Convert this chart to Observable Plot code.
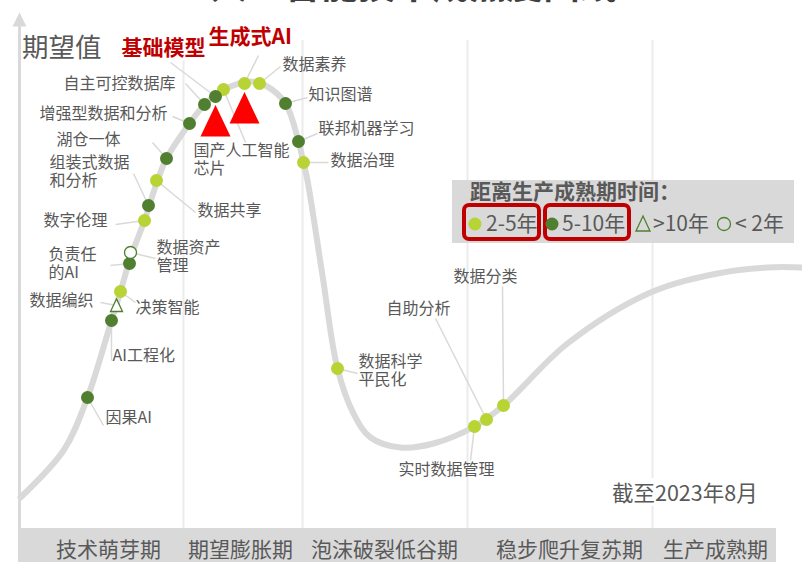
<!DOCTYPE html>
<html>
<head>
<meta charset="utf-8">
<script src="https://cdn.jsdelivr.net/npm/d3@7"></script>
<script src="https://cdn.jsdelivr.net/npm/@observablehq/plot@0.6"></script>
<style>
  html, body { margin: 0; padding: 0; background: #fff; }
  #wrap { position: relative; width: 802px; height: 562px; overflow: hidden; font-family: "Noto Sans CJK SC", "Noto Sans", sans-serif; }
  #chart svg { display: block; }
  .ov { position: absolute; white-space: pre; color: #595959; }
  #title { left: 210px; top: -37px; font-size: 37px; line-height: 40px; font-weight: bold; color: #404040; }
  #ylabel { left: 22px; top: 31px; font-size: 26.5px; line-height: 30px; }
  #asof { left: 610px; top: 478px; font-size: 21.5px; line-height: 28px; background: #fff; padding: 0 2px; }
  #legend { position: absolute; left: 452px; top: 180px; width: 342px; height: 63px; background: #d9d9d9; }
  #legendTitle { left: 470px; top: 178px; font-size: 21px; line-height: 24px; font-weight: bold; }
  .lbox { position: absolute; top: 203px; height: 38px; box-sizing: border-box; border: 4px solid #c00000; border-radius: 7px; }
  .ltxt { top: 210px; font-size: 21px; line-height: 24px; }
</style>
</head>
<body>
<div id="wrap">
  <div id="chart"></div>
  <div class="ov" id="title"></div>
  <div class="ov" id="ylabel"></div>
  <div class="ov" id="asof"></div>
  <div id="legend"></div>
  <div id="legendItems"></div>
</div>
<script>
// ---------------- data ----------------
const chartTitle = "人工智能技术成熟度曲线";
const yAxisLabel = "期望值";
const asOfText = "截至2023年8月";
const legendTitle = "距离生产成熟期时间：";
const maturityClasses = ["2-5", "5-10", ">10", "<2"];
const maturityLabels = ["2-5年", "5-10年", ">10年", "< 2年"];

// hype curve: time (x) vs expectation (y)
const curveTime   = [1, 44, 68, 92, 101, 111, 125, 137, 147, 170, 185, 196, 211, 231, 246, 266, 279, 284, 288, 303, 318, 334, 351, 381, 414, 455, 484, 548, 631, 698, 748, 783];
const curveExpect = [31, 78, 131, 208, 237, 271, 308, 345, 370, 405, 424, 433, 442, 447, 443, 425, 387, 366, 348, 253, 160, 115, 91, 81, 85, 102, 123, 185, 236, 255, 261, 261];

// phases
const phaseNames   = ["技术萌芽期", "期望膨胀期", "泡沫破裂低谷期", "稳步爬升复苏期", "生产成熟期"];
const phaseBounds  = [-1, 164, 283, 448, 633, 757];
const phaseCenters = [89, 221, 365, 550, 696];

// technologies
const techNames = ["因果AI", "AI工程化", "数据编织", "决策智能", "负责任的AI", "数据资产管理", "数字伦理", "组装式数据和分析", "数据共享", "湖仓一体", "增强型数据和分析", "自主可控数据库", "基础模型", "国产人工智能芯片", "生成式AI", "数据素养", "知识图谱", "联邦机器学习", "数据治理", "数据科学平民化", "实时数据管理", "自助分析", "数据分类"];
const techTime   = [68, 92, 97, 101, 110, 111, 125, 129, 137, 147, 170, 185, 196, 204, 225, 240, 266, 279, 284, 318, 455, 467, 484];
const techExpect = [131, 208, 223, 237, 265, 276, 308, 323, 348, 370, 405, 424, 432, 439, 445, 445, 425, 387, 366, 160, 102, 109, 123];
const techMaturity = ["5-10", "5-10", ">10", "2-5", "5-10", "<2", "2-5", "5-10", "2-5", "5-10", "5-10", "5-10", "5-10", "2-5", "2-5", "2-5", "5-10", "5-10", "2-5", "2-5", "2-5", "2-5", "2-5"];
const highlighted = ["基础模型", "生成式AI"];

// ---------------- layout (label offsets, px) ----------------
const labelLayout = {
  "因果AI":         {dx: 18,  dy: 20,  anchor: "start",  lx: 16,  ly: 28},
  "AI工程化":       {dx: 1,   dy: 35,  anchor: "start",  lx: 0,   ly: 40},
  "数据编织":       {dx: -23, dy: -5,  anchor: "end",    lx: -16, ly: -3},
  "决策智能":       {dx: 15,  dy: 16,  anchor: "start",  lx: 15,  ly: 11},
  "负责任的AI":     {dx: -81, dy: 0,   anchor: "start",  lx: -19, ly: 2,  text: "负责任\n的AI"},
  "数据资产管理":   {dx: 26,  dy: 4,   anchor: "start",  lx: 25,  ly: 6,  text: "数据资产\n管理"},
  "数字伦理":       {dx: -37, dy: 0,   anchor: "end",    lx: -29, ly: 4},
  "组装式数据和分析": {dx: -99, dy: -34, anchor: "start", lx: -15, ly: -32, text: "组装式数据\n和分析"},
  "数据共享":       {dx: 41,  dy: 30,  anchor: "start",  lx: 39,  ly: 32},
  "湖仓一体":       {dx: -46, dy: -19, anchor: "end",    lx: -14, ly: -16},
  "增强型数据和分析": {dx: -22, dy: -10, anchor: "end",   lx: -17, ly: -7},
  "自主可控数据库": {dx: -29, dy: -21, anchor: "end",    lx: -19, ly: -21},
  "基础模型":       {dx: -10, dy: -48, anchor: "end",    lx: -45, ly: -34},
  "国产人工智能芯片": {dx: -30, dy: 70, anchor: "start",  lx: 22,  ly: 53, text: "国产人工智能\n芯片"},
  "生成式AI":       {dx: -36, dy: -46, anchor: "start",  lx: 14,  ly: -28},
  "数据素养":       {dx: 23,  dy: -19, anchor: "start",  lx: 21,  ly: -17},
  "知识图谱":       {dx: 23,  dy: -9,  anchor: "start",  lx: 22,  ly: -6},
  "联邦机器学习":   {dx: 20,  dy: -13, anchor: "start",  lx: 19,  ly: -8},
  "数据治理":       {dx: 27,  dy: -2,  anchor: "start",  lx: 25,  ly: 0},
  "数据科学平民化": {dx: 21,  dy: 2,   anchor: "start",  lx: 20,  ly: 5,  text: "数据科学\n平民化"},
  "实时数据管理":   {dx: -28, dy: 43,  anchor: "middle", lx: -4,  ly: 34},
  "自助分析":       {dx: -36, dy: -111, anchor: "end",   lx: -51, ly: -101},
  "数据分类":       {dx: -18, dy: -129, anchor: "middle", lx: -1, ly: -119}
};

// ---------------- build ----------------
const LIGHT = "#b7d334", DARK = "#4f7f2f", GRAY = "#595959", CURVE = "#d9d9d9";
const FONT = '"Noto Sans CJK SC", "Noto Sans", sans-serif';

const curve = curveTime.map((t, i) => ({t, e: curveExpect[i]}));
const phases = phaseNames.map((name, i) => ({name, start: phaseBounds[i], end: phaseBounds[i + 1], center: phaseCenters[i]}));
const items = techNames.map((name, i) => {
  const L = labelLayout[name];
  return {name, t: techTime[i], e: techExpect[i], m: techMaturity[i], hl: highlighted.includes(name),
          text: L.text || name, anchor: L.anchor, lxp: techTime[i] + L.dx, lyp: techExpect[i] - L.dy,
          kx: techTime[i] + L.lx, ky: techExpect[i] - L.ly};
});

const tri = {draw(ctx, size) { const r = Math.sqrt(size / Math.PI); ctx.moveTo(0, -1.1 * r); ctx.lineTo(r, r); ctx.lineTo(-r, r); ctx.closePath(); }};
const arrowHead = {draw(ctx, size) { const r = Math.sqrt(size / Math.PI); ctx.moveTo(0, 0); ctx.lineTo(r, 2 * r); ctx.lineTo(-r, 2 * r); ctx.closePath(); }};

const labelMark = (anchor) => Plot.text(items.filter(d => !d.hl && d.anchor === anchor), {
  x: "lxp", y: "lyp", text: "text", textAnchor: anchor, fontSize: 16, fill: GRAY, lineHeight: 1.1
});
const redLabel = (anchor) => Plot.text(items.filter(d => d.hl && d.anchor === anchor), {
  x: "lxp", y: "lyp", text: "text", textAnchor: anchor,
  fontSize: 21, fontWeight: "bold", fill: "#c00000", stroke: "white", strokeWidth: 6, paintOrder: "stroke"
});

const chart = Plot.plot({
  width: 802, height: 562,
  marginLeft: 19, marginRight: 0, marginTop: 40, marginBottom: 34,
  x: {domain: [0, 783], axis: null},
  y: {domain: [0, 488], axis: null},
  style: {fontFamily: FONT, background: "white"},
  marks: [
    Plot.rect(phases, {x1: "start", x2: "end", y1: 0, y2: -34, fill: "#d9d9d9"}),
    Plot.ruleX(phaseBounds.slice(1, -1), {y1: 0, y2: 488, stroke: "#ececec", strokeWidth: 2}),
    Plot.ruleX([0], {y1: -1, y2: 503, stroke: CURVE, strokeWidth: 3}),
    Plot.dot([0], {x: 0, y: 516, r: 7, symbol: arrowHead, fill: CURVE}),
    Plot.line(curve, {x: "t", y: "e", curve: "catmull-rom", stroke: CURVE, strokeWidth: 6}),
    Plot.link(items, {x1: "t", y1: "e", x2: "kx", y2: "ky", stroke: CURVE, strokeWidth: 1.5}),
    Plot.dot(items.filter(d => d.m === "2-5"), {x: "t", y: "e", r: 6.5, fill: LIGHT}),
    Plot.dot(items.filter(d => d.m === "5-10"), {x: "t", y: "e", r: 6.5, fill: DARK}),
    Plot.dot(items.filter(d => d.m === ">10"), {x: "t", y: "e", r: 6, symbol: tri, fill: "white", stroke: DARK, strokeWidth: 1.3}),
    Plot.dot(items.filter(d => d.m === "<2"), {x: "t", y: "e", r: 6, fill: "white", stroke: DARK, strokeWidth: 1.3}),
    Plot.dot(items.filter(d => d.hl), {x: "t", y: "e", dy: 25, r: 15, symbol: tri, fill: "#ff0000"}),
    labelMark("start"), labelMark("end"), labelMark("middle"),
    redLabel("start"), redLabel("end"),
    Plot.text(phases, {x: "center", y: -22, text: "name", fontSize: 21, fill: GRAY})
  ]
});
document.getElementById("chart").append(chart);

document.getElementById("title").textContent = chartTitle;
document.getElementById("ylabel").textContent = yAxisLabel;
document.getElementById("asof").textContent = asOfText;

// legend (HTML overlay)
const li = document.getElementById("legendItems");
li.innerHTML = `
  <div class="ov" id="legendTitle">${legendTitle}</div>
  <div class="lbox" style="left:462px;width:79px;"></div>
  <div class="lbox" style="left:543px;width:88px;"></div>
  <svg style="position:absolute;left:0;top:0;overflow:visible" width="802" height="562">
    <circle cx="475" cy="224" r="6.5" fill="${LIGHT}"/>
    <circle cx="552" cy="224" r="6.5" fill="${DARK}"/>
    <path d="M643,216 L650,231 L636,231 Z" fill="none" stroke="${DARK}" stroke-width="1.3"/>
    <circle cx="724" cy="224" r="6.5" fill="none" stroke="${DARK}" stroke-width="1.3"/>
  </svg>
  <div class="ov ltxt" style="left:486px">${maturityLabels[0]}</div>
  <div class="ov ltxt" style="left:562px">${maturityLabels[1]}</div>
  <div class="ov ltxt" style="left:653px">${maturityLabels[2]}</div>
  <div class="ov ltxt" style="left:735px">${maturityLabels[3]}</div>`;
</script>
</body>
</html>
